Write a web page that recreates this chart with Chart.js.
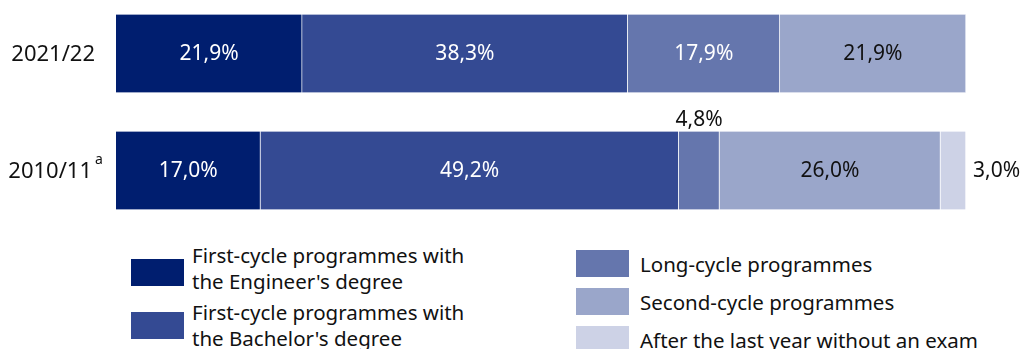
<!DOCTYPE html>
<html>
<head>
<meta charset="utf-8">
<script src="https://cdn.jsdelivr.net/npm/chart.js@4/dist/chart.umd.min.js"></script>
<style>
  html, body { margin: 0; padding: 0; background: #fff; }
  body { width: 1027px; height: 349px; position: relative; overflow: hidden;
         font-family: 'Noto Sans', sans-serif; color: #111; }
  #wrap { position: absolute; left: 0; top: -5px; width: 1027px; height: 234px; }
  .leg { position: absolute; display: flex; align-items: center; font-size: 20.5px; line-height: 26px; }
  .leg .box { width: 53px; height: 27px; flex: none; }
  .leg .txt { margin-left: 8px; }
  .leg.c2 .txt { margin-left: 11px; }
</style>
</head>
<body>
<div id="wrap"><canvas id="chart"></canvas></div>
<div id="legend"></div>
<script>
// Years (top to bottom) and footnote marks
const years = ['2021/22', '2010/11'];
const yearNotes = ['', 'a'];

// Shares in %, one array per programme type
const seriesNames = [
  "First-cycle programmes with\nthe Engineer's degree",
  "First-cycle programmes with\nthe Bachelor's degree",
  'Long-cycle programmes',
  'Second-cycle programmes',
  'After the last year without an exam'
];
const engineer = [21.9, 17.0];
const bachelor = [38.3, 49.2];
const longCycle = [17.9, 4.8];
const secondCycle = [21.9, 26.0];
const noExam = [0, 3.0];

const colors = ['#001e6f', '#344a93', '#6576ad', '#9aa6ca', '#cdd2e6'];
const labelColors = ['#ffffff', '#ffffff', '#ffffff', '#111111', '#111111'];

const seriesData = [engineer, bachelor, longCycle, secondCycle, noExam];

const fmt = v => v.toFixed(1).replace('.', ',') + '%';

// value labels inside / next to the segments
const valueLabels = {
  id: 'valueLabels',
  afterDatasetsDraw(chart) {
    const ctx = chart.ctx;
    ctx.save();
    ctx.font = '21px "Noto Sans"';
    chart.data.datasets.forEach((ds, di) => {
      const meta = chart.getDatasetMeta(di);
      meta.data.forEach((bar, i) => {
        const v = ds.data[i];
        if (!v) return;
        const left = Math.min(bar.x, bar.base);
        const right = Math.max(bar.x, bar.base);
        if (v >= 6) {
          ctx.fillStyle = labelColors[di];
          ctx.textAlign = 'center';
          ctx.textBaseline = 'middle';
          ctx.fillText(fmt(v), (left + right) / 2, bar.y + 1);
        } else if (di === chart.data.datasets.length - 1) {
          ctx.fillStyle = '#111';
          ctx.textAlign = 'left';
          ctx.textBaseline = 'middle';
          ctx.fillText(fmt(v), right + 7, bar.y + 1);
        } else {
          ctx.fillStyle = '#111';
          ctx.textAlign = 'center';
          ctx.textBaseline = 'bottom';
          ctx.fillText(fmt(v), (left + right) / 2, bar.y - bar.height / 2 - 1);
        }
      });
    });
    ctx.restore();
  }
};

// year labels on the left, with footnote superscript
const yearLabels = {
  id: 'yearLabels',
  afterDraw(chart) {
    const ctx = chart.ctx;
    const y = chart.scales.y;
    ctx.save();
    ctx.fillStyle = '#111';
    ctx.textBaseline = 'middle';
    years.forEach((yr, i) => {
      const py = y.getPixelForValue(i) + 1;
      let xr = chart.chartArea.left - 21;
      if (yearNotes[i]) {
        xr = chart.chartArea.left - 24;
        ctx.font = '14px "Noto Sans"';
        ctx.textAlign = 'left';
        ctx.fillText(yearNotes[i], xr + 3, py - 11);
      }
      ctx.font = '22px "Noto Sans"';
      ctx.textAlign = 'right';
      ctx.fillText(yr, xr, py);
    });
    ctx.restore();
  }
};

new Chart(document.getElementById('chart'), {
  type: 'bar',
  data: {
    labels: years,
    datasets: seriesData.map((d, i) => ({
      label: seriesNames[i],
      data: d,
      backgroundColor: colors[i],
      borderColor: 'rgba(255,255,255,0.35)',
      borderWidth: { left: 0, right: 1, top: 0, bottom: 0 },
      borderSkipped: false,
      barThickness: 78
    }))
  },
  options: {
    indexAxis: 'y',
    responsive: true,
    maintainAspectRatio: false,
    animation: false,
    layout: { padding: { left: 116, right: 61, top: 0, bottom: 0 } },
    scales: {
      x: { stacked: true, min: 0, max: 100, display: false },
      y: { stacked: true, display: false }
    },
    plugins: {
      legend: { display: false },
      tooltip: { enabled: false }
    }
  },
  plugins: [valueLabels, yearLabels]
});

// legend (two columns)
const legendPos = [
  { left: 131, top: 242, box: 17, cls: 'c1' },
  { left: 131, top: 299, box: 0, cls: 'c1' },
  { left: 576, top: 250, box: 0, cls: 'c2' },
  { left: 576, top: 288, box: 0, cls: 'c2' },
  { left: 576, top: 326, box: 0, cls: 'c2' }
];
const legend = document.getElementById('legend');
seriesNames.forEach((name, i) => {
  const p = legendPos[i];
  const el = document.createElement('div');
  el.className = 'leg ' + p.cls;
  el.style.left = p.left + 'px';
  el.style.top = p.top + 'px';
  el.innerHTML = '<div class="box" style="background:' + colors[i] +
    (p.box ? ';margin-top:' + (p.box / 2) + 'px' : '') + '"></div><div class="txt">' +
    name.replace(/\n/g, '<br>') + '</div>';
  legend.appendChild(el);
});
</script>
</body>
</html>
